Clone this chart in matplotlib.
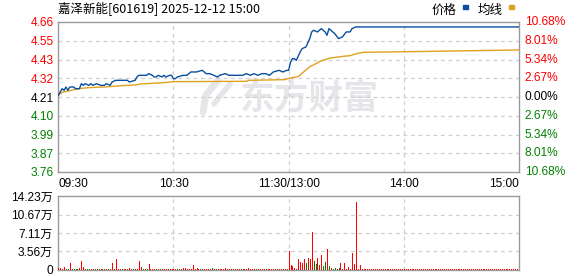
import matplotlib.pyplot as plt
from matplotlib.patches import Rectangle

plt.rcParams['font.family'] = ['Liberation Sans', 'Noto Sans CJK SC', 'DejaVu Sans']

title = '嘉泽新能[601619] 2025-12-12 15:00'
prev_close = 4.21
pct_limit = 10.68
time_ticks = [0, 60, 120, 180, 240]
time_labels = ['09:30', '10:30', '11:30/13:00', '14:00', '15:00']
price_labels = ['3.76', '3.87', '3.99', '4.10', '4.21', '4.32', '4.43', '4.55', '4.66']
pct_labels = ['10.68%', '8.01%', '5.34%', '2.67%', '0.00%', '2.67%', '5.34%', '8.01%', '10.68%']
vol_max = 14.23
vol_ticks = [0, 3.56, 7.11, 10.67, 14.23]
vol_labels = ['0', '3.56万', '7.11万', '10.67万', '14.23万']

# minute index (0 = 09:30, 120 = 11:30/13:00, 240 = 15:00) and price
price_minutes = [0, 2, 3, 4, 5, 6, 8, 9, 11, 12, 13, 14, 16, 17, 18, 20, 22, 24, 25, 27,
                 28, 30, 33, 36, 37, 40, 41, 42, 44, 46, 47, 49, 50, 51, 52, 54, 55, 56, 58, 59,
                 60, 61, 62, 65, 67, 68, 69, 72, 75, 76, 77, 79, 81, 83, 84, 87, 89, 91, 94, 96,
                 98, 100, 102, 104, 106, 108, 110, 112, 115, 117, 119, 120, 121, 122, 123, 124, 126, 127, 129, 131,
                 132, 133, 135, 136, 137, 139, 140, 141, 142, 144, 146, 148, 150, 152, 153, 155, 240]
price_values = [4.22, 4.26, 4.25, 4.27, 4.25, 4.27, 4.27, 4.26, 4.26, 4.29, 4.28, 4.29, 4.28, 4.29, 4.28, 4.29, 4.28, 4.28, 4.29, 4.28,
                4.30, 4.31, 4.31, 4.31, 4.30, 4.31, 4.33, 4.34, 4.34, 4.34, 4.35, 4.34, 4.33, 4.33, 4.34, 4.33, 4.34, 4.33, 4.34, 4.34,
                4.32, 4.32, 4.33, 4.34, 4.34, 4.35, 4.36, 4.36, 4.37, 4.36, 4.35, 4.35, 4.34, 4.33, 4.34, 4.35, 4.34, 4.34, 4.34, 4.34,
                4.35, 4.34, 4.35, 4.34, 4.35, 4.35, 4.34, 4.36, 4.37, 4.36, 4.37, 4.37, 4.42, 4.44, 4.44, 4.43, 4.48, 4.50, 4.51, 4.56,
                4.60, 4.61, 4.60, 4.61, 4.62, 4.60, 4.58, 4.62, 4.61, 4.59, 4.56, 4.57, 4.60, 4.60, 4.62, 4.63, 4.63]

avg_minutes = [0, 2, 5, 9, 12, 16, 24, 33, 40, 43, 49, 57, 60, 98, 99, 118, 120, 125, 131, 133,
               136, 141, 147, 152, 156, 159, 185, 240]
avg_values = [4.22, 4.238, 4.246, 4.256, 4.262, 4.266, 4.27, 4.278, 4.282, 4.288, 4.292, 4.298, 4.302, 4.304, 4.31, 4.314, 4.322, 4.332, 4.392, 4.402,
              4.422, 4.442, 4.452, 4.458, 4.472, 4.478, 4.482, 4.492]

# volume per minute, 万股
volumes = [0.3, 0.3, 0.2, 0.6, 0.2, 0.2, 1.4, 0.2, 0.2, 0.2, 0.2, 0.3, 1.75, 0.6, 0.2, 0.2, 0.2, 0.2, 0.2, 0.2,
           0.2, 0.2, 0.2, 0.2, 0.2, 0.2, 0.2, 0.2, 1.4, 0.2, 2.15, 0.2, 0.2, 0.2, 0.2, 0.2, 0.2, 0.4, 0.2, 0.2,
           0.2, 0.2, 1.7, 0.6, 0.2, 0.2, 0.2, 1.2, 0.2, 0.2, 0.2, 0.2, 0.2, 0.2, 0.2, 0.2, 0.2, 0.2, 0.2, 0.2,
           0.2, 0.2, 0.2, 0.2, 0.2, 0.3, 0.4, 0.2, 0.2, 0.2, 0.96, 0.2, 0.4, 0.2, 0.2, 0.2, 0.2, 0.2, 0.2, 0.2,
           0.4, 0.2, 0.2, 0.2, 0.2, 0.2, 0.2, 0.3, 0.2, 0.2, 0.2, 0.2, 0.2, 0.2, 0.2, 0.2, 0.2, 0.2, 0.2, 0.4,
           0.2, 0.2, 0.2, 0.2, 0.2, 0.2, 0.2, 0.2, 0.2, 0.2, 0.2, 0.2, 0.2, 0.2, 0.2, 0.2, 0.2, 0.2, 0.2, 0.2,
           3.7, 0.96, 0.75, 0.4, 0.2, 2.1, 1.6, 1.35, 2.1, 1.35, 2.3, 2.1, 7.3, 1.7, 1.15, 2.3, 0.96, 2.9, 0.8, 1.5,
           4.0, 0.8, 0.3, 0.2, 0.4, 0.2, 0.3, 1.35, 0.2, 1.35, 0.2, 0.5, 0.2, 3.3, 1.15, 13.1, 0.2, 0.96, 0.2, 0.2,
           0.2, 0.2, 0.2, 0.2, 0.2, 0.2, 0.2, 0.2, 0.2, 0.2, 0.2, 0.2, 0.2, 0.2, 0.2, 0.2, 0.2, 0.2, 0.2, 0.2,
           0.2, 0.2, 0.2, 0.2, 0.2, 0.2, 0.2, 0.2, 0.2, 0.2, 0.2, 0.2, 0.2, 0.2, 0.2, 0.2, 0.2, 0.2, 0.2, 0.2,
           0.2, 0.2, 0.2, 0.2, 0.2, 0.2, 0.2, 0.2, 0.2, 0.2, 0.2, 0.2, 0.2, 0.2, 0.2, 0.2, 0.2, 0.2, 0.2, 0.2,
           0.2, 0.2, 0.2, 0.2, 0.2, 0.2, 0.2, 0.2, 0.2, 0.2, 0.2, 0.2, 0.2, 0.2, 0.2, 0.2, 0.2, 0.2, 0.2, 0.2,
           0.4]
green_minutes = [4, 5, 8, 9, 10, 15, 16, 19, 21, 23, 26, 33, 35, 39, 44, 46, 51, 53, 57, 62,
                 64, 74, 80, 82, 90, 95, 103, 108, 113, 117, 129, 133, 134, 138, 139, 141, 143, 144, 146]

RED = '#ff0000'
GREEN = '#008000'
BLUE = '#0a4f9e'
ORANGE = '#e0a11e'
GRID = '#cfcfcf'
FRAME = '#9a9a9a'

W, H = 578, 276
fig = plt.figure(figsize=(W / 100, H / 100), dpi=100)


def box(x0, y0, x1, y1):
    return [x0 / W, 1 - y1 / H, (x1 - x0) / W, (y1 - y0) / H]


ax = fig.add_axes(box(58.3, 22, 519, 172))
axv = fig.add_axes(box(58.3, 196, 519, 270))

# price panel
span = prev_close * pct_limit / 100
ax.set_xlim(0, 240)
ax.set_ylim(prev_close - span, prev_close + span)
ax.plot(avg_minutes, avg_values, color=ORANGE, lw=1.0, zorder=3)
ax.plot(price_minutes, price_values, color=BLUE, lw=1.0, zorder=4)

levels = [prev_close - span + k * span / 4 for k in range(9)]
ax.set_yticks(levels)
ax.set_yticklabels(price_labels, fontsize=8.6)
label_colors = [GREEN] * 4 + ['black'] + [RED] * 4
for lab, c in zip(ax.get_yticklabels(), label_colors):
    lab.set_color(c)
for lv, txt, c in zip(levels, pct_labels, label_colors):
    ax.annotate(txt, xy=(1, lv), xycoords=('axes fraction', 'data'), xytext=(4, 0),
                textcoords='offset points', ha='left', va='center', fontsize=8.6, color=c)

ax.set_xticks(time_ticks)
ax.set_xticklabels(time_labels, fontsize=8.6)
xl = ax.get_xticklabels()
xl[0].set_horizontalalignment('left')
xl[-1].set_horizontalalignment('right')
ax.tick_params(length=0, pad=3)
ax.tick_params(axis='x', pad=4)

for lv in levels[1:-1]:
    ax.axhline(lv, color=GRID, lw=0.9, ls=(0, (3, 3)), zorder=1)
for t in time_ticks[1:-1]:
    ax.axvline(t, color=GRID, lw=0.9, ls=(0, (3, 3)), zorder=1)

# volume panel
vol_colors = [GREEN if i in green_minutes else RED for i in range(len(volumes))]
axv.vlines(range(len(volumes)), 0, volumes, colors=vol_colors, lw=0.72, zorder=3,
           antialiased=False)
axv.set_xlim(0, 240)
axv.set_ylim(0, vol_max)
axv.set_yticks(vol_ticks)
axv.set_yticklabels(vol_labels, fontsize=8.6)
axv.set_xticks([])
axv.tick_params(length=0, pad=4)
for v in vol_ticks[1:-1]:
    axv.axhline(v, color=GRID, lw=0.9, ls=(0, (3, 3)), zorder=1)
for t in time_ticks[1:-1]:
    axv.axvline(t, color=GRID, lw=0.9, ls=(0, (3, 3)), zorder=1)

for a in (ax, axv):
    for s in a.spines.values():
        s.set_color(FRAME)
        s.set_linewidth(1.0)

# watermark
ax.text(309 / W, 1 - 98 / H, '东方财富', transform=fig.transFigure, fontsize=25,
        fontweight='bold', color='#e6e6ea', ha='center', va='center',
        family=['Noto Sans CJK SC'], zorder=0)
ax.plot([218 / W, 206 / W, 203 / W], [1 - 80 / H, 1 - 95 / H, 1 - 112 / H],
        transform=fig.transFigure, color='#e6e6ea', lw=5, solid_capstyle='round', zorder=0)
ax.plot([230 / W, 220 / W, 214 / W], [1 - 84 / H, 1 - 96 / H, 1 - 104 / H],
        transform=fig.transFigure, color='#e6e6ea', lw=4, solid_capstyle='round', zorder=0)

# header
fig.text(58 / W, 1 - 9.5 / H, title, fontsize=9, va='center', ha='left',
         family=['Noto Sans CJK SC'])
fig.text(432 / W, 1 - 10 / H, '价格', fontsize=9, va='center', ha='left',
         family=['Noto Sans CJK SC'])
fig.text(478 / W, 1 - 10 / H, '均线', fontsize=9, va='center', ha='left',
         family=['Noto Sans CJK SC'])
fig.patches.append(Rectangle((463 / W, 1 - 9 / H), 5 / W, 4 / H, transform=fig.transFigure,
                             color=BLUE, figure=fig))
fig.patches.append(Rectangle((509 / W, 1 - 9 / H), 5 / W, 4 / H, transform=fig.transFigure,
                             color=ORANGE, figure=fig))

fig.savefig('out.png', dpi=100)
